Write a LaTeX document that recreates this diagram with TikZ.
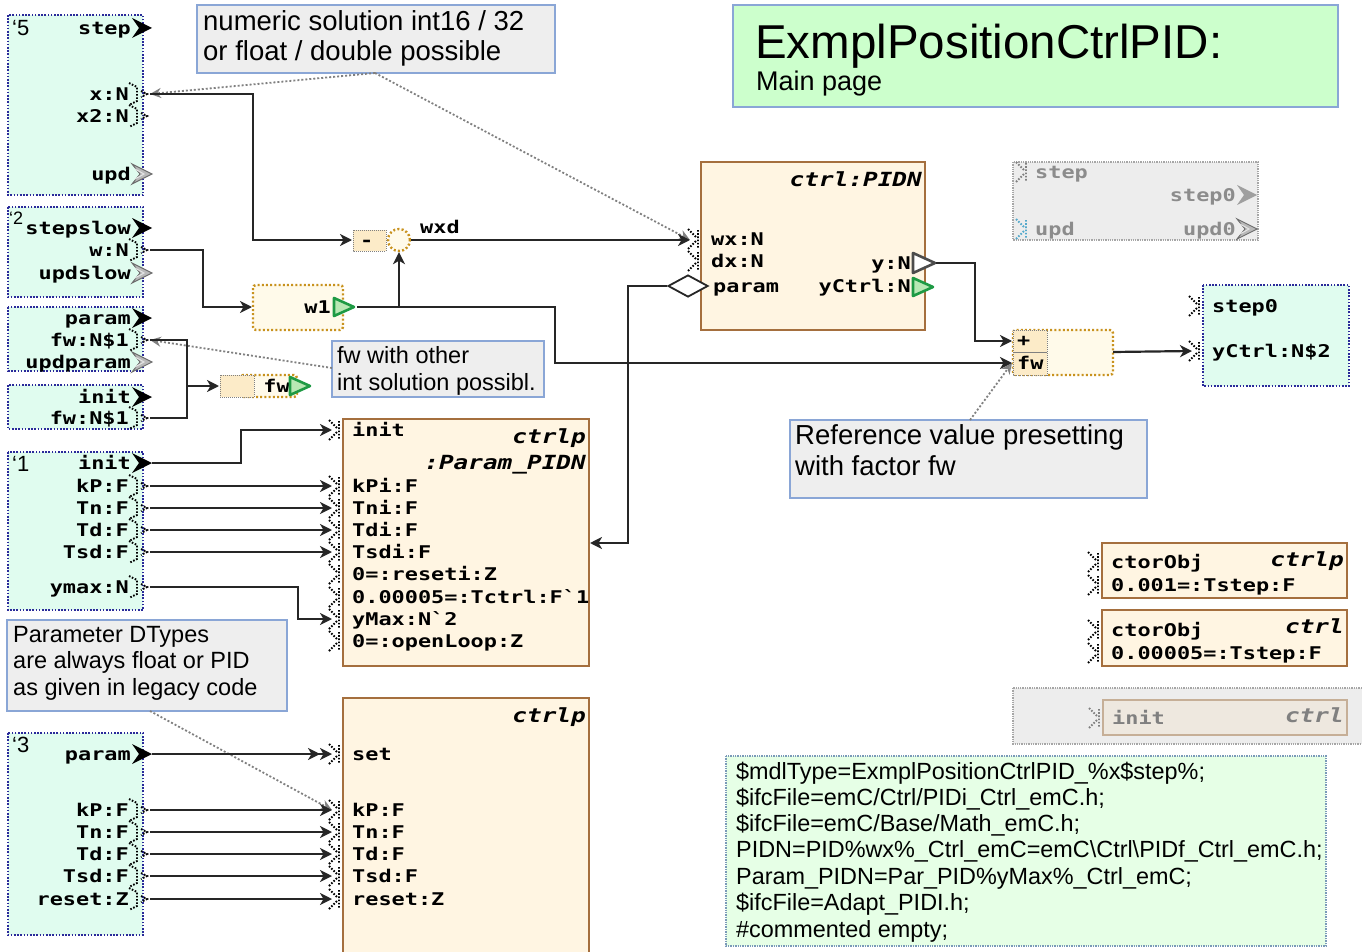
\documentclass[tikz,border=0pt]{standalone}
\usepackage{fontspec}
\setmainfont{Liberation Sans}
\newfontfamily\mono[FakeStretch=1.25,BoldFont={DejaVu Sans Mono Bold},BoldItalicFont={DejaVu Sans Mono Bold Oblique}]{DejaVu Sans Mono}
\usetikzlibrary{arrows.meta,shapes.geometric,calc}
\definecolor{mint}{HTML}{E0FCEF}
\definecolor{navyb}{HTML}{2A2A9A}
\definecolor{notefill}{HTML}{EEEEEE}
\definecolor{noteborder}{HTML}{8AA6D6}
\definecolor{titlefill}{HTML}{CCFFCC}
\definecolor{codefill}{HTML}{E6FFE6}
\definecolor{codeborder}{HTML}{7A9AB8}
\definecolor{fbfill}{HTML}{FFF5E2}
\definecolor{fbborder}{HTML}{A56F3E}
\definecolor{orng}{HTML}{C8921E}
\definecolor{creamfill}{HTML}{FFFAEA}
\definecolor{subfill}{HTML}{FCEBC8}
\definecolor{gtb}{HTML}{1E9A44}
\definecolor{gtf}{HTML}{B9E8B4}
\definecolor{greyframe}{HTML}{EDEDED}
\definecolor{fadedfill}{HTML}{EEE8DF}
\definecolor{fadedborder}{HTML}{C6AF97}
\tikzset{
  modbox/.style={fill=mint, draw=navyb, line width=1.8pt, dash pattern=on 1.6pt off 1.6pt},
  notebox/.style={fill=notefill, draw=noteborder, line width=1.4pt},
  fblock/.style={fill=fbfill, draw=fbborder, line width=2.8pt},
  ofrm/.style={fill=creamfill, draw=orng, line width=2.4pt, dash pattern=on 2pt off 2.2pt, rounded corners=3pt},
  lbl/.style={font=\mono\bfseries\fontsize{17.5}{20}\selectfont, inner sep=0pt, yshift=-3.5pt},
  ttl/.style={font=\mono\bfseries\itshape\fontsize{19.5}{22}\selectfont, inner sep=0pt, anchor=mid east, yshift=-4pt},
  num/.style={font=\fontsize{22}{22}\selectfont, inner sep=0pt, anchor=mid west, yshift=-4pt},
  ntxt/.style={inner sep=0pt, anchor=base west},
  conn/.style={draw=black!85, line width=2.2pt, -{Stealth[length=12pt,width=12pt,inset=3.5pt]}},
  dconn/.style={draw=black!85, line width=2.2pt, -{Stealth[length=12pt,width=12pt,inset=3.5pt]Stealth[length=12pt,width=12pt,inset=3.5pt]}},
  wire/.style={draw=black!85, line width=2.2pt},
  ptr/.style={draw=gray, line width=1.8pt, dash pattern=on 2pt off 2pt, -{Stealth[length=11pt,width=10pt,open]}},
  chev/.pic={\fill[pic actions] (0,-10) -- (20,0) -- (0,10) -- (7,0) -- cycle;},
  gchev/.pic={\draw[fill=gray!55, draw=gray!85!black, line width=0.9pt] (0,-10) -- (20,0) -- (0,10) -- (8,0) -- cycle;
              \draw[gray!20, line width=1pt] (3,-5) -- (12,0) -- (3,5);},
  vport/.pic={\draw[pic actions, line width=1.9pt, dash pattern=on 1.6pt off 1.6pt] (-2,-11) -- (6,-7) -- (6,7) -- (-2,11) (10,-3) -- (16,0) -- (10,3);},
  inport/.pic={\draw[pic actions, line width=1.9pt, dash pattern=on 1.6pt off 1.6pt] (-14,-10) -- (-6,-2) (-14,10) -- (-6,2) (-4,-9) -- (-4,9);},
  gtri/.pic={\draw[draw=gtb, fill=gtf, line width=2.6pt, line join=round] (1,-9) -- (21,0) -- (1,9) -- cycle;},
  ochev/.pic={\draw[draw=black!70, fill=white, line width=2.6pt, line join=round] (1,-10) -- (23,0) -- (1,10) -- cycle;},
}
\newcommand\outc[4]{\node[lbl,anchor=mid east] (#1) at (131,#2) {#3}; \pic at (132,#2) {#4}; \coordinate (#1o) at (152,#2);}
\newcommand\outv[3]{\node[lbl,anchor=mid east] (#1) at (129,#2) {#3}; \pic at (131,#2) {vport}; \coordinate (#1o) at (150,#2);}
\newcommand\inp[4]{\node[lbl,anchor=mid west] (#1) at (#2+9,#3) {#4}; \pic at (#2,#3) {inport}; \coordinate (#1i) at (#2-11,#3);}
\begin{document}
\begin{tikzpicture}[x=1pt,y=-1pt]
\useasboundingbox (0,0) rectangle (1362,952);

% ---------- notes and title ----------
\draw[notebox] (197,5) rectangle (555,73);
\node[ntxt,font=\fontsize{27.5}{30}\selectfont] (n1a) at (203,31) {numeric solution int16 / 32};
\node[ntxt,font=\fontsize{27.5}{30}\selectfont] (n1b) at (203,61) {or float / double possible};
\coordinate (n1tip) at (375,73);

\draw[fill=titlefill, draw=noteborder, line width=1.4pt] (733,5) rectangle (1338,107);
\node[ntxt,font=\fontsize{47.5}{50}\selectfont] (ttla) at (755,59) {ExmplPositionCtrlPID:};
\node[ntxt,font=\fontsize{27}{30}\selectfont] (ttlb) at (756,91) {Main page};

\draw[notebox] (332,341) rectangle (544,397);
\node[ntxt,font=\fontsize{23.5}{26}\selectfont] (n2a) at (337,363) {fw with other};
\node[ntxt,font=\fontsize{23.5}{26}\selectfont] (n2b) at (337,390) {int solution possibl.};
\coordinate (n2tip) at (332,368);

\draw[notebox] (790,420) rectangle (1147,498);
\node[ntxt,font=\fontsize{27.5}{30}\selectfont] (n3a) at (795,444) {Reference value presetting};
\node[ntxt,font=\fontsize{27.5}{30}\selectfont] (n3b) at (795,475) {with factor fw};
\coordinate (n3tip) at (970,420);

\draw[notebox] (7,620) rectangle (287,711);
\node[ntxt,font=\fontsize{23.5}{26}\selectfont] (n4a) at (13,642) {Parameter DTypes};
\node[ntxt,font=\fontsize{23.5}{26}\selectfont] (n4b) at (13,668) {are always float or PID};
\node[ntxt,font=\fontsize{23.5}{26}\selectfont] (n4c) at (13,695) {as given in legacy code};
\coordinate (n4tip) at (150,711);

% ---------- module boxes (left) ----------
\draw[modbox] (8,15) rectangle (143,195);
\node[num] (a-num) at (12,29) {`5};
\outc{a-step}{28}{step}{chev}
\outv{a-x}{94}{x:N}
\outv{a-xx}{116}{x2:N}
\outc{a-upd}{174}{upd}{gchev}

\draw[modbox] (8,207) rectangle (143,297);
\node[num, font=\fontsize{18}{18}\selectfont] (b-num) at (9,218) {`2};
\outc{b-stepslow}{228}{stepslow}{chev}
\outv{b-w}{250}{w:N}
\outc{b-updslow}{273}{updslow}{gchev}

\draw[modbox] (8,307) rectangle (143,371);
\outc{c-param}{318}{param}{chev}
\outv{c-fw}{340}{fw:N\$1}
\outc{c-updparam}{362}{updparam}{gchev}

\draw[modbox] (8,385) rectangle (143,429);
\outc{d-init}{397}{init}{chev}
\outv{d-fw}{418}{fw:N\$1}

\draw[modbox] (8,452) rectangle (143,610);
\node[num] (e-num) at (12,465) {`1};
\outc{e-init}{463}{init}{chev}
\outv{e-kP}{486}{kP:F}
\outv{e-Tn}{508}{Tn:F}
\outv{e-Td}{530}{Td:F}
\outv{e-Tsd}{552}{Tsd:F}
\outv{e-ymax}{587}{ymax:N}

\draw[modbox] (8,733) rectangle (143,935);
\node[num] (f-num) at (12,746) {`3};
\outc{f-param}{754}{param}{chev}
\outv{f-kP}{810}{kP:F}
\outv{f-Tn}{832}{Tn:F}
\outv{f-Td}{854}{Td:F}
\outv{f-Tsd}{876}{Tsd:F}
\outv{f-reset}{899}{reset:Z}

% ---------- right module box ----------
\draw[modbox] (1203,285) rectangle (1349,386);
\inp{g-step}{1203}{306}{step0}
\inp{g-y}{1203}{351}{yCtrl:N\$2}

% ---------- grey frame top right ----------
\draw[fill=greyframe, draw=gray!70, line width=1.3pt, densely dotted] (1013,162) rectangle (1258,240);
\node[lbl,text=gray!90,anchor=mid west] (h-step) at (1035,172) {step};
\pic[gray] at (1030,172) {inport};
\node[lbl,text=gray!90,anchor=mid east] (h-step0) at (1236,195) {step0};
\fill[gray!75] (1237,185) -- (1257,195) -- (1237,205) -- (1244,195) -- cycle;
\node[lbl,text=gray!90,anchor=mid west] (h-upd) at (1035,229) {upd};
\pic[cyan!60!gray] at (1030,229) {inport};
\node[lbl,text=gray!90,anchor=mid east] (h-upd0) at (1236,229) {upd0};
\pic at (1237,229) {gchev};

% ---------- operator blocks ----------
\draw[fill=subfill, draw=gray, line width=1pt, densely dotted] (353,230) rectangle (386,251);
\node[lbl,anchor=mid west] (sub) at (360,240) {-};
\coordinate (sub-in) at (352,240);
\node[circle, draw=orng, fill=creamfill, line width=2.4pt, dash pattern=on 2pt off 2.2pt, minimum size=22pt, inner sep=0pt] (circ) at (399,240) {};
\node[lbl,anchor=mid west] (wxd) at (420,227) {wxd};

\draw[ofrm] (253,285) rectangle (343,330);
\node[lbl,anchor=mid east] (w1) at (331,307) {w1};
\pic at (333,307) {gtri};
\coordinate (w1-in) at (252,307);
\coordinate (w1-out) at (357,307);
\coordinate (w1-br) at (399,307);

\draw[ofrm] (240,375) rectangle (297,397);
\draw[fill=subfill, draw=gray, line width=1pt, densely dotted] (220,375) rectangle (254,397);
\node[lbl,anchor=mid east] (fwb) at (290,386) {fw};
\pic at (289,386) {gtri};
\coordinate (fw-in) at (219,386);
\coordinate (fw-br) at (187,386);

\draw[ofrm] (1013,330) rectangle (1113,375);
\draw[fill=subfill, draw=gray, line width=1pt, densely dotted] (1013,330) rectangle (1047,375);
\draw[gray, line width=1pt] (1013,352) -- (1047,352);
\node[lbl,anchor=mid west] (mul-p) at (1017,340) {+};
\node[lbl,anchor=mid west] (mul-f) at (1017,363) {fw};
\coordinate (mul-plus) at (1012,341);
\coordinate (mul-fw) at (1012,363);
\coordinate (mul-out) at (1113,352);

% ---------- ctrl:PIDN ----------
\draw[fblock] (701,162) rectangle (925,330);
\node[ttl] (pidn-t) at (922,180) {ctrl:PIDN};
\node[lbl,anchor=mid west] (pidn-wx) at (711,239) {wx:N};
\pic at (702,239) {inport};
\coordinate (pidn-wxi) at (690,240);
\node[lbl,anchor=mid west] (pidn-dx) at (711,261) {dx:N};
\pic at (702,261) {inport};
\node[lbl,anchor=mid west] (pidn-par) at (713,286) {param};
\node[diamond, draw=black!85, fill=white, line width=1.8pt, aspect=2, minimum width=40pt, minimum height=22pt, inner sep=0pt] (pdia) at (688,286) {};
\node[lbl,anchor=mid east] (pidn-y) at (911,263) {y:N};
\pic at (912,263) {ochev};
\coordinate (pidn-yo) at (936,263);
\node[lbl,anchor=mid east] (pidn-yc) at (911,286) {yCtrl:N};
\pic at (912,287) {gtri};

% ---------- ctrlp : Param_PIDN ----------
\draw[fblock] (343,419) rectangle (589,666);
\node[ttl] (prm-t1) at (586,437) {ctrlp};
\node[ttl] (prm-t2) at (586,463) {:Param\_PIDN};
\inp{p-init}{343}{430}{init}
\inp{p-kP}{343}{486}{kPi:F}
\inp{p-Tn}{343}{508}{Tni:F}
\inp{p-Td}{343}{530}{Tdi:F}
\inp{p-Tsd}{343}{552}{Tsdi:F}
\inp{p-reset}{343}{574}{0=:reseti:Z}
\inp{p-Tctrl}{343}{597}{0.00005=:Tctrl:F`1}
\inp{p-ymax}{343}{619}{yMax:N`2}
\inp{p-open}{343}{641}{0=:openLoop:Z}
\coordinate (prm-in) at (590,543);

% ---------- ctrlp (set) ----------
\draw[fblock] (343,698) rectangle (589,962);
\node[ttl] (q-t) at (586,716) {ctrlp};
\inp{q-set}{343}{754}{set}
\inp{q-kP}{343}{810}{kP:F}
\inp{q-Tn}{343}{832}{Tn:F}
\inp{q-Td}{343}{854}{Td:F}
\inp{q-Tsd}{343}{876}{Tsd:F}
\inp{q-reset}{343}{899}{reset:Z}

% ---------- ctor blocks ----------
\draw[fblock] (1102,543) rectangle (1347,598);
\node[ttl] (r1-t) at (1344,560) {ctrlp};
\inp{r1-c}{1102}{562}{ctorObj}
\inp{r1-t2}{1102}{585}{0.001=:Tstep:F}
\draw[fblock] (1102,610) rectangle (1347,666);
\node[ttl] (r2-t) at (1344,627) {ctrl};
\inp{r2-c}{1102}{630}{ctorObj}
\inp{r2-t2}{1102}{653}{0.00005=:Tstep:F}

\draw[fill=greyframe, draw=gray!70, line width=1.3pt, densely dotted] (1013,688) rectangle (1366,744);
\draw[fill=fadedfill, draw=fadedborder, line width=2.8pt] (1103,700) rectangle (1347,735);
\node[ttl, text=gray] (r3-t) at (1344,716) {ctrl};
\node[lbl, text=gray, anchor=mid west] (r3-i) at (1112,718) {init};
\pic[gray] at (1103,718) {inport};

% ---------- code box ----------
\draw[fill=codefill, draw=codeborder, line width=1.4pt, densely dotted] (726,756) rectangle (1326,946);
\begin{scope}[every node/.style={ntxt,font=\fontsize{23.4}{26}\selectfont}]
\node (k1) at (736,779) {\$mdlType=ExmplPositionCtrlPID\_\%x\$step\%;};
\node (k2) at (736,805) {\$ifcFile=emC/Ctrl/PIDi\_Ctrl\_emC.h;};
\node (k3) at (736,831) {\$ifcFile=emC/Base/Math\_emC.h;};
\node (k4) at (736,857) {PIDN=PID\%wx\%\_Ctrl\_emC=emC\textbackslash Ctrl\textbackslash PIDf\_Ctrl\_emC.h;};
\node (k5) at (736,884) {Param\_PIDN=Par\_PID\%yMax\%\_Ctrl\_emC;};
\node (k6) at (736,910) {\$ifcFile=Adapt\_PIDI.h;};
\node (k7) at (736,937) {\#commented empty;};
\end{scope}

% ---------- note pointers ----------
\draw[ptr] (n1tip) -- (a-xo);
\draw[ptr] (n1tip) -- (pidn-wxi);
\draw[ptr] (n2tip) -- (c-fwo);
\draw[ptr] (n3tip) -- (mul-fw);
\draw[ptr] (n4tip) -- (q-kPi);

% ---------- connectors ----------
\draw[conn] (a-xo) -- (253,94) -- (253,240) -- (sub-in);
\draw[conn] (b-wo) -- (203,250) -- (203,307) -- (w1-in);
\draw[conn] (w1-out) -- (555,307) -- (555,363) -- (mul-fw);
\draw[conn] (w1-br) -- (circ.south);
\draw[conn] (circ.east) -- (pidn-wxi);
\draw[conn] (pdia.west) -- (628,286) -- (628,543) -- (prm-in);
\draw[conn] (pidn-yo) -- (975,263) -- (975,341) -- (mul-plus);
\draw[conn] (mul-out) -- (g-yi);
\draw[wire] (d-fwo) -- (187,418) -- (187,340) -- (c-fwo);
\draw[conn] (fw-br) -- (fw-in);
\draw[conn] (e-inito) -- (241,463) -- (241,430) -- (p-initi);
\foreach \n in {kP,Tn,Td,Tsd} {\draw[conn] (e-\n o) -- (p-\n i);}
\draw[conn] (e-ymaxo) -- (298,587) -- (298,619) -- (p-ymaxi);
\draw[dconn] (f-paramo) -- (q-seti);
\foreach \n in {kP,Tn,Td,Tsd,reset} {\draw[conn] (f-\n o) -- (q-\n i);}
\end{tikzpicture}
\end{document}
